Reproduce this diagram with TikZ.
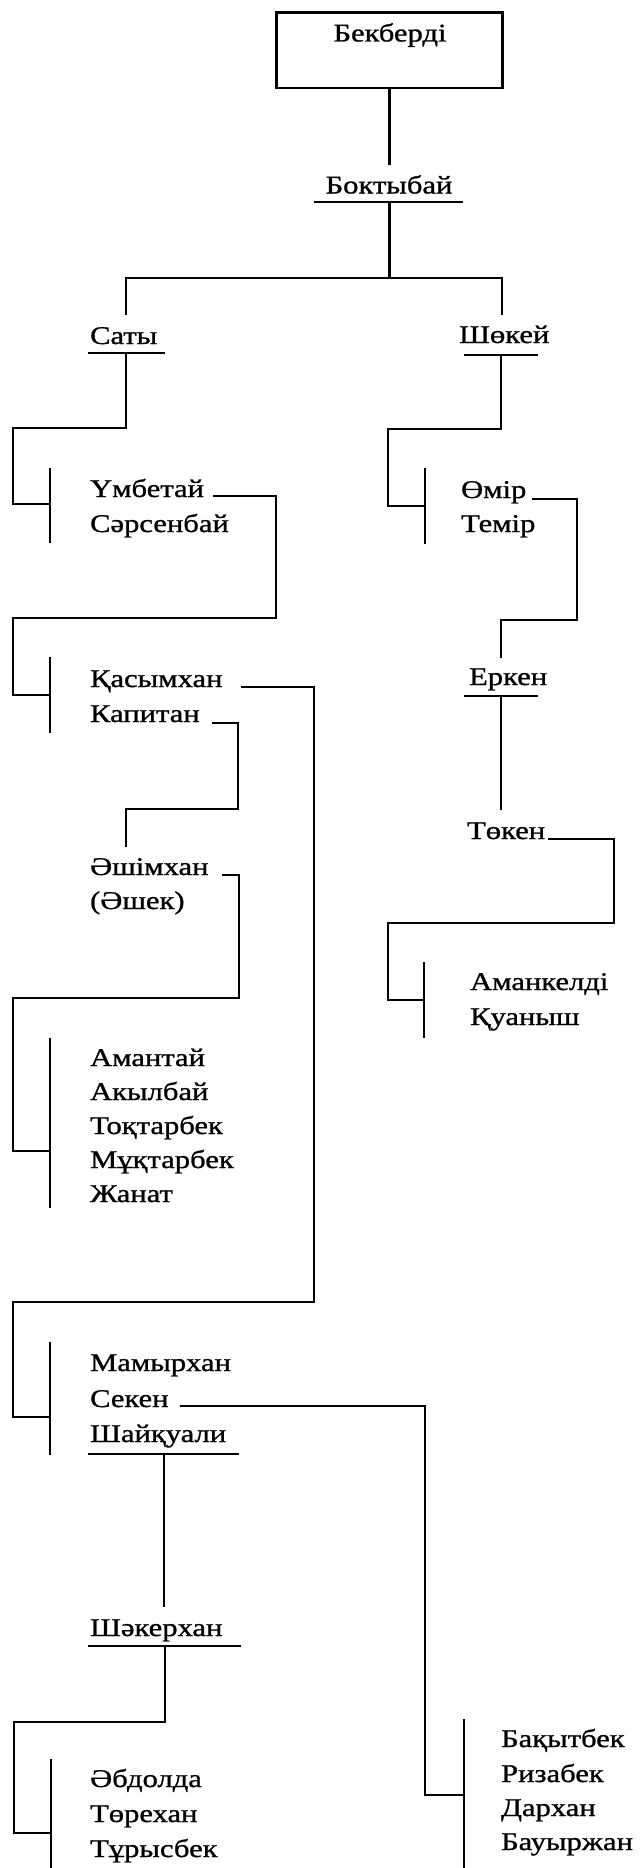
\documentclass[tikz,border=0pt]{standalone}
\usepackage{fontspec}
\setmainfont{Liberation Serif}[FakeStretch=1.2,FakeBold=1]
\begin{document}
\begin{tikzpicture}[x=0.5pt,y=-0.5pt,line width=1.1pt,
  nm/.style={anchor=base west,inner sep=0pt,font=\fontsize{12.75pt}{15pt}\selectfont},
  nc/.style={nm,anchor=base},
  boxnode/.style={draw,line width=1.3pt,minimum width=113pt,minimum height=37.6pt,inner sep=0pt}]
\useasboundingbox (0,0) rectangle (642,1868);
% top
\node[boxnode] (bek) at (389.5,50.3) {};
\node[nc] (bektxt) at (390,41.5) {Бекберді};
\node[nc] (bok) at (389,193.5) {Боктыбай};
\coordinate (bokin) at (389.5,165);
\draw (bek.south) -- (bokin);
\coordinate (bokulL) at (314,202); \coordinate (bokulR) at (463,202);
\draw (bokulL) -- (bokulR);
\draw (389.5,202) -- (389.5,278);
\draw (126,315) -- (126,278) -- (502,278) -- (502,315);
\node[nm] (saty) at (89,344) {Саты};
\draw (88,353) -- (165,353);
\node[nm] (shok) at (458,343) {Шөкей};
\draw (464,355) -- (538,355);
% Saty branch
\draw (126,353) -- (126,428) -- (12.7,428) -- (12.7,504) -- (50,504);
\draw (50,468) -- (50,543);
\node[nm] (umb) at (89,497) {Үмбетай};
\node[nm] (sar) at (89,532) {Сәрсенбай};
\draw (213,496) -- (276,496) -- (276,618) -- (12.7,618) -- (12.7,695) -- (50,695);
\draw (50,657) -- (50,733);
\node[nm] (kas) at (89,687) {Қасымхан};
\node[nm] (kap) at (89,722) {Капитан};
\draw (241,687) -- (314,687) -- (314,1302) -- (12.7,1302) -- (12.7,1417) -- (50,1417);
\draw (212,723) -- (238,723) -- (238,809) -- (126,809) -- (126,847);
\node[nm] (ash) at (89,875) {Әшімхан};
\node[nm] (ashek) at (89,909) {(Әшек)};
\draw (222,875) -- (239,875) -- (239,998) -- (12.7,998) -- (12.7,1151) -- (50,1151);
\draw (50,1038) -- (50,1208);
\node[nm] (a1) at (89,1066) {Амантай};
\node[nm] (a2) at (89,1100) {Акылбай};
\node[nm] (a3) at (89,1134) {Тоқтарбек};
\node[nm] (a4) at (89,1168) {Мұқтарбек};
\node[nm] (a5) at (89,1202) {Жанат};
% Mamyrkhan group
\draw (50,1342) -- (50,1455);
\node[nm] (m1) at (89,1371) {Мамырхан};
\node[nm] (m2) at (89,1407) {Секен};
\node[nm] (m3) at (89,1442) {Шайқуали};
\draw (88,1454) -- (239,1454);
\draw (180,1406) -- (425,1406) -- (425,1795) -- (464,1795);
\draw (464,1719) -- (464,1868);
\node[nm] (b1) at (500,1747) {Бақытбек};
\node[nm] (b2) at (500,1782) {Ризабек};
\node[nm] (b3) at (500,1816) {Дархан};
\node[nm] (b4) at (500,1850) {Бауыржан};
\draw (164,1454) -- (164,1607);
\node[nm] (shak) at (89,1636) {Шәкерхан};
\draw (88,1646) -- (241,1646);
\draw (165,1646) -- (165,1722) -- (14,1722) -- (14,1833) -- (51,1833);
\draw (51,1759) -- (51,1868);
\node[nm] (c1) at (89,1787) {Әбдолда};
\node[nm] (c2) at (89,1822) {Төрехан};
\node[nm] (c3) at (89,1857) {Тұрысбек};
% Shokei branch
\draw (501,355) -- (501,429) -- (388,429) -- (388,506) -- (425,506);
\draw (425,468) -- (425,544);
\node[nm] (omir) at (460,498) {Өмір};
\node[nm] (temir) at (460,532) {Темір};
\draw (532,499) -- (577,499) -- (577,620) -- (501,620) -- (501,658);
\node[nm] (erk) at (468,685) {Еркен};
\draw (464,696) -- (538,696);
\draw (501,696) -- (501,810);
\node[nm] (tok) at (466,839) {Төкен};
\draw (548,839) -- (614,839) -- (614,923) -- (388,923) -- (388,1000) -- (424,1000);
\draw (424,962) -- (424,1038);
\node[nm] (aman) at (469,990) {Аманкелді};
\node[nm] (kuan) at (469,1025) {Қуаныш};
\end{tikzpicture}
\end{document}
